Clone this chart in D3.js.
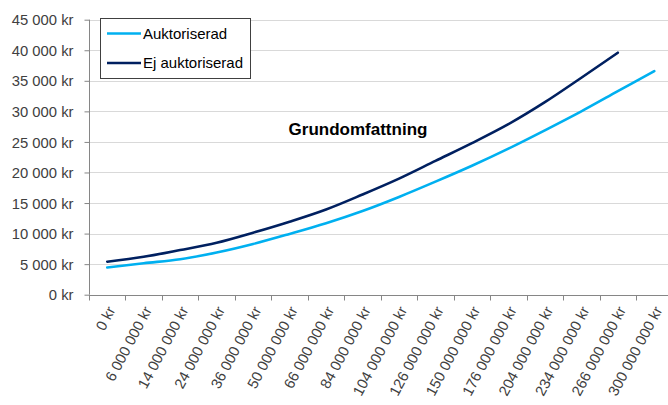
<!DOCTYPE html>
<html>
<head>
  <meta charset="utf-8">
  <style>
    html, body {
      margin: 0;
      padding: 0;
      background: #fff;
      width: 668px;
      height: 405px;
      overflow: hidden;
    }
    svg { display: block; font-family: "Liberation Sans", Arial, sans-serif; }
    .grid line { stroke: #d9d9d9; stroke-width: 1px; }
    .axis path, .axis line { stroke: #868686; stroke-width: 1px; }
    .axis text { fill: #404040; font-size: 14.8px; }
  </style>
</head>
<body>
  <svg width="668" height="405"></svg>

  <script src="https://d3js.org/d3.v7.min.js"></script>
  <script>
    // category labels (fastighetsvärde, kr)
    const categories = [0, 6e6, 14e6, 24e6, 36e6, 50e6, 66e6, 84e6, 104e6, 126e6,
                        150e6, 176e6, 204e6, 234e6, 266e6, 300e6];
    const auktoriserad = [4450, 5150, 5800, 6900, 8300, 9950, 11700, 13700, 16000,
                          18500, 21100, 23900, 26900, 30000, 33300, 36600];
    const ejAuktoriserad = [5400, 6200, 7300, 8500, 10150, 11950, 13950, 16400, 19000,
                            21900, 24800, 27900, 31500, 35500, 39600];
    const yTicks = [0, 5000, 10000, 15000, 20000, 25000, 30000, 35000, 40000, 45000];

    const series = [
      { name: "Auktoriserad", values: auktoriserad, color: "#00b0f0" },
      { name: "Ej auktoriserad", values: ejAuktoriserad, color: "#002060" }
    ];

    const svg = d3.select("svg");
    const mLeft = 89, mTop = 19.7, mBottom = 294.7;
    const step = 36.47;

    const sv = d3.formatLocale({ decimal: ",", thousands: "\u00a0", grouping: [3], currency: ["", " kr"] });
    const fmt = v => sv.format(",")(v) + " kr";

    const x = d3.scaleBand()
      .domain(categories.map((d, i) => i))
      .range([mLeft, mLeft + step * categories.length]);

    const y = d3.scaleLinear().domain([0, 45000]).range([mBottom, mTop]);

    // gridlines
    svg.append("g").attr("class", "grid")
      .selectAll("line")
      .data(yTicks.slice(1))
      .join("line")
      .attr("x1", mLeft).attr("x2", 668)
      .attr("y1", d => Math.round(y(d)) + 0.5)
      .attr("y2", d => Math.round(y(d)) + 0.5);

    // y axis
    const yAxis = svg.append("g").attr("class", "axis")
      .attr("transform", `translate(${mLeft + 0.5},0)`)
      .call(d3.axisLeft(y).tickValues(yTicks).tickFormat(fmt).tickSize(5).tickSizeOuter(0).tickPadding(11));
    yAxis.select(".domain").attr("d", `M0,${y(45000)}V${mBottom}`);
    yAxis.selectAll(".tick text").attr("dy", "0.35em");

    // x axis with ticks at category boundaries
    const xAxis = svg.append("g").attr("class", "axis")
      .attr("transform", `translate(0,${Math.round(mBottom) + 0.5})`);
    xAxis.append("line").attr("x1", mLeft).attr("x2", 668);
    xAxis.selectAll("line.tk")
      .data(d3.range(categories.length + 1))
      .join("line")
      .attr("class", "tk")
      .attr("x1", i => Math.round(mLeft + i * step) + 0.5)
      .attr("x2", i => Math.round(mLeft + i * step) + 0.5)
      .attr("y1", 0).attr("y2", 5);
    xAxis.selectAll("text")
      .data(categories)
      .join("text")
      .attr("text-anchor", "end")
      .attr("transform", (d, i) => `translate(${x(i) + x.bandwidth() / 2 + 4},${12}) rotate(-62)`)
      .attr("dy", "0.35em")
      .text(d => fmt(d));

    // lines
    const line = d3.line()
      .x((d, i) => x(i) + x.bandwidth() / 2)
      .y(d => y(d))
      .curve(d3.curveMonotoneX);

    svg.append("g")
      .selectAll("path")
      .data(series)
      .join("path")
      .attr("fill", "none")
      .attr("stroke", d => d.color)
      .attr("stroke-width", 2.6)
      .attr("stroke-linecap", "round")
      .attr("d", d => line(d.values));

    // title
    svg.append("text")
      .attr("x", 358).attr("y", 135)
      .attr("text-anchor", "middle")
      .attr("font-weight", "bold")
      .attr("font-size", 17)
      .attr("fill", "#000")
      .text("Grundomfattning");

    // legend
    const lg = svg.append("g");
    lg.append("rect")
      .attr("x", 100.5).attr("y", 18.5)
      .attr("width", 150).attr("height", 60)
      .attr("fill", "#fff").attr("stroke", "#404040").attr("stroke-width", 1);
    const item = lg.selectAll("g.item")
      .data(series)
      .join("g")
      .attr("class", "item")
      .attr("transform", (d, i) => `translate(107,${33.5 + i * 29.5})`);
    item.append("line")
      .attr("x1", 0).attr("x2", 34)
      .attr("stroke", d => d.color).attr("stroke-width", 2.6);
    item.append("text")
      .attr("x", 36).attr("dy", "0.35em")
      .attr("font-size", 15).attr("fill", "#000")
      .text(d => d.name);
  </script>
</body>
</html>
